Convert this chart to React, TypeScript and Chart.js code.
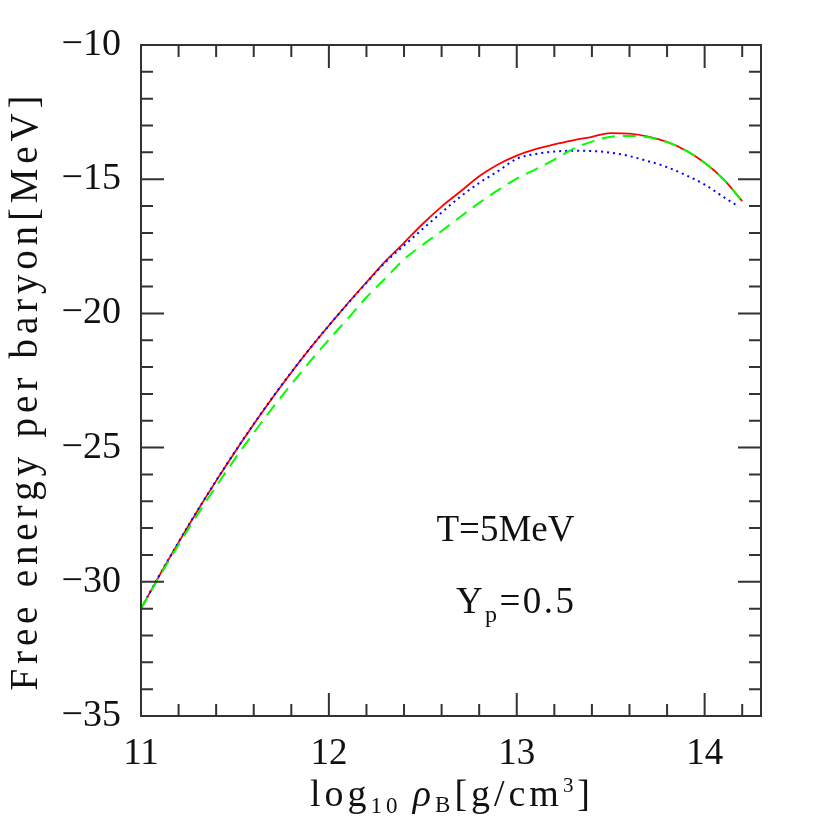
import React, { useEffect, useRef } from "react";
import { Chart, registerables } from "chart.js";
Chart.register(...registerables);

const xValues = [11.0, 11.1, 11.2, 11.3, 11.4, 11.5, 11.6, 11.7, 11.8, 11.9, 12.0, 12.1, 12.2, 12.3, 12.4, 12.5, 12.6, 12.7, 12.8, 12.9, 13.0, 13.1, 13.2, 13.3, 13.4, 13.5, 13.6, 13.7, 13.8, 13.9, 14.0, 14.1, 14.2];
const redValues = [-31, -29.74, -28.53, -27.36, -26.24, -25.16, -24.13, -23.14, -22.2, -21.3, -20.45, -19.63, -18.84, -18.06, -17.37, -16.66, -16.02, -15.46, -14.89, -14.45, -14.12, -13.88, -13.7, -13.55, -13.42, -13.28, -13.3, -13.41, -13.61, -13.93, -14.39, -15.0, -15.82];
const greenValues = [-31, -29.78, -28.62, -27.5, -26.44, -25.42, -24.45, -23.52, -22.64, -21.79, -20.98, -20.2, -19.4, -18.7, -17.99, -17.44, -16.93, -16.4, -15.88, -15.41, -14.98, -14.63, -14.27, -13.87, -13.6, -13.42, -13.39, -13.44, -13.62, -13.93, -14.39, -15.0, -15.82];
const blueX = [11.0, 11.1, 11.2, 11.3, 11.4, 11.5, 11.6, 11.7, 11.8, 11.9, 12.0, 12.1, 12.2, 12.3, 12.4, 12.5, 12.6, 12.7, 12.8, 12.9, 13.0, 13.1, 13.2, 13.3, 13.4, 13.5, 13.6, 13.7, 13.8, 13.9, 14.0, 14.1, 14.17];
const blueValues = [-31, -29.73, -28.52, -27.35, -26.23, -25.15, -24.12, -23.13, -22.19, -21.3, -20.45, -19.64, -18.86, -18.1, -17.47, -16.85, -16.24, -15.65, -15.14, -14.7, -14.24, -14.06, -13.97, -13.94, -13.95, -14.01, -14.14, -14.33, -14.55, -14.85, -15.2, -15.66, -15.97];

const xTickLabels = [11, 12, 13, 14];
const yTickLabels = [-35, -30, -25, -20, -15, -10];
const xMinorStep = 0.2;
const yMinorStep = 1;
const xRange = [11, 14.3];
const yRange = [-35, -10];

const FONT = "'Liberation Serif', 'Times New Roman', serif";
const TEXT = "#111";
const FRAME = "#333";

type Seg = { t: string; size: number; dy?: number; italic?: boolean };

function fontOf(s: Seg) {
  return `${s.italic ? "italic " : ""}${s.size}px ${FONT}`;
}

function drawRich(ctx: CanvasRenderingContext2D, segs: Seg[], x: number, y: number, target: number) {
  let nat = 0;
  let n = 0;
  for (const s of segs) {
    ctx.font = fontOf(s);
    for (const ch of Array.from(s.t)) {
      nat += ctx.measureText(ch).width;
      n += 1;
    }
  }
  const ls = target > 0 && n > 1 ? (target - nat) / (n - 1) : 0;
  let cx = x - (nat + ls * (n - 1)) / 2;
  for (const s of segs) {
    ctx.font = fontOf(s);
    for (const ch of Array.from(s.t)) {
      ctx.fillText(ch, cx, y + (s.dy || 0));
      cx += ctx.measureText(ch).width + ls;
    }
  }
}

const decorPlugin = {
  id: "decor",
  afterDatasetsDraw(chart: any) {
    const ctx: CanvasRenderingContext2D = chart.ctx;
    const { left, right, top, bottom } = chart.chartArea;
    const xs = chart.scales.x;
    const ys = chart.scales.y;
    ctx.save();
    ctx.strokeStyle = FRAME;
    ctx.lineWidth = 2;
    ctx.strokeRect(left, top, right - left, bottom - top);
    const major = 23;
    const minor = 12;
    ctx.beginPath();
    for (let v = xRange[0]; v <= xRange[1] + 1e-9; v += xMinorStep) {
      const vv = Math.round(v * 10) / 10;
      const isMajor = xTickLabels.some((t) => Math.abs(t - vv) < 1e-6);
      const len = isMajor ? major : minor;
      const px = xs.getPixelForValue(vv);
      if (px <= left + 1 || px >= right - 1) continue;
      ctx.moveTo(px, bottom);
      ctx.lineTo(px, bottom - len);
      ctx.moveTo(px, top);
      ctx.lineTo(px, top + len);
    }
    for (let v = yRange[0]; v <= yRange[1] + 1e-9; v += yMinorStep) {
      const isMajor = yTickLabels.some((t) => Math.abs(t - v) < 1e-6);
      const len = isMajor ? major : minor;
      const py = ys.getPixelForValue(v);
      if (py <= top + 1 || py >= bottom - 1) continue;
      ctx.moveTo(left, py);
      ctx.lineTo(left + len, py);
      ctx.moveTo(right, py);
      ctx.lineTo(right - len, py);
    }
    ctx.stroke();

    ctx.fillStyle = TEXT;
    ctx.textBaseline = "alphabetic";
    ctx.textAlign = "left";
    // y title
    ctx.save();
    ctx.translate(37, 393);
    ctx.rotate(-Math.PI / 2);
    drawRich(ctx, [{ t: "Free energy per baryon[MeV]", size: 39 }], 0, 0, 595);
    ctx.restore();
    // x title
    drawRich(
      ctx,
      [
        { t: "log", size: 38 },
        { t: "10", size: 23, dy: 7 },
        { t: " ", size: 30 },
        { t: "ρ", size: 38, italic: true },
        { t: "B", size: 23, dy: 6 },
        { t: "[g/cm", size: 38 },
        { t: "3", size: 21, dy: -14 },
        { t: "]", size: 38 },
      ],
      450,
      806,
      280
    );
    // annotations
    const ax = xs.getPixelForValue(12.94);
    drawRich(ctx, [{ t: "T=5MeV", size: 37 }], ax, ys.getPixelForValue(-28.48), 138);
    drawRich(
      ctx,
      [
        { t: "Y", size: 37 },
        { t: "p", size: 24, dy: 9 },
        { t: "=0.5", size: 37 },
      ],
      xs.getPixelForValue(12.99),
      ys.getPixelForValue(-31.18),
      118
    );
    ctx.restore();
  },
};

export default function App() {
  const ref = useRef<HTMLCanvasElement | null>(null);
  useEffect(() => {
    if (!ref.current) return;
    const mk = (xa: number[], ya: number[]) => xa.map((x, i) => ({ x, y: ya[i] }));
    const chart = new Chart(ref.current, {
      type: "line",
      data: {
        datasets: [
          {
            label: "red",
            data: mk(xValues, redValues),
            borderColor: "#ff0000",
            borderWidth: 1.8,
            pointRadius: 0,
            cubicInterpolationMode: "monotone",
            order: 3,
          },
          {
            label: "blue",
            data: mk(blueX, blueValues),
            borderColor: "#0000ff",
            borderWidth: 2,
            borderDash: [2, 4],
            pointRadius: 0,
            cubicInterpolationMode: "monotone",
            order: 2,
          },
          {
            label: "green",
            data: mk(xValues, greenValues),
            borderColor: "#00ff00",
            borderWidth: 2,
            borderDash: [13, 8],
            pointRadius: 0,
            cubicInterpolationMode: "monotone",
            order: 1,
          },
        ],
      },
      options: {
        responsive: false,
        animation: false,
        devicePixelRatio: 1,
        layout: { padding: { left: 0, top: 45, right: 69, bottom: 0 } },
        plugins: { legend: { display: false }, tooltip: { enabled: false }, title: { display: false } },
        scales: {
          x: {
            type: "linear",
            min: xRange[0],
            max: xRange[1],
            grid: { display: false, drawTicks: false },
            border: { display: false },
            afterBuildTicks: (scale: any) => {
              scale.ticks = xTickLabels.map((v) => ({ value: v }));
            },
            afterFit: (scale: any) => {
              scale.height = 114;
            },
            ticks: {
              padding: 16,
              color: TEXT,
              maxRotation: 0,
              autoSkip: false,
              font: { family: FONT, size: 37 },
              callback: (v: any) => String(v),
            },
          },
          y: {
            type: "linear",
            min: yRange[0],
            max: yRange[1],
            grid: { display: false, drawTicks: false },
            border: { display: false },
            afterBuildTicks: (scale: any) => {
              scale.ticks = yTickLabels.map((v) => ({ value: v }));
            },
            afterFit: (scale: any) => {
              scale.width = 141;
            },
            ticks: {
              padding: 20,
              color: TEXT,
              autoSkip: false,
              font: { family: FONT, size: 38 },
              callback: (v: any) => (v < 0 ? "\u2212" + Math.abs(v) : String(v)),
            },
          },
        },
      },
      plugins: [decorPlugin],
    } as any);
    return () => chart.destroy();
  }, []);
  return (
    <canvas
      ref={ref}
      width={830}
      height={830}
      style={{ position: "absolute", left: 0, top: 0, width: 830, height: 830, background: "#fff" }}
    />
  );
}
